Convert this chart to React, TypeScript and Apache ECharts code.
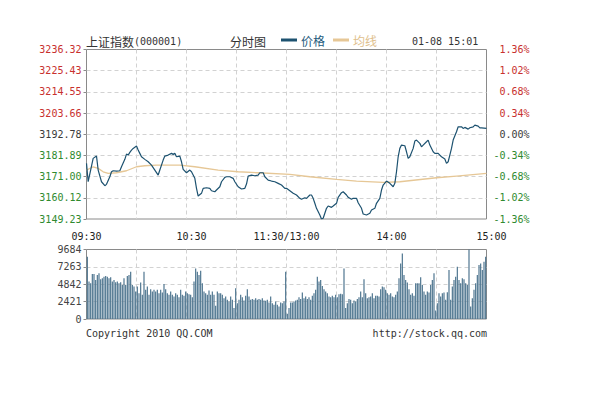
import React, { useEffect, useRef } from 'react';
import * as echarts from 'echarts';

const priceTicks = ['3149.23', '3160.12', '3171.00', '3181.89', '3192.78', '3203.66', '3214.55', '3225.43', '3236.32'];
const pctTicks = ['-1.36%', '-1.02%', '-0.68%', '-0.34%', '0.00%', '0.34%', '0.68%', '1.02%', '1.36%'];
const timeTickMinutes = [0, 60, 120, 180, 240];
const timeTickLabels = ['09:30', '10:30', '11:30/13:00', '14:00', '15:00'];
const priceMin = 3149.23;
const priceMax = 3236.32;
const volMax = 9684;
const volStep = 2421;

const priceMinutes = [
  0, 1, 4, 6, 7, 9, 11, 12, 14, 15, 16, 18, 20, 21, 23, 24, 25, 26, 27, 28,
  30, 31, 32, 33, 35, 37, 39, 41, 43, 44, 46, 47, 49, 51, 52, 53, 54, 56, 57, 58,
  60, 62, 63, 65, 66, 67, 69, 70, 72, 74, 75, 77, 78, 80, 81, 83, 84, 86, 88, 89,
  91, 93, 95, 96, 97, 99, 101, 103, 104, 106, 107, 109, 111, 113, 115, 117, 119, 120, 122, 124,
  126, 128, 129, 131, 132, 134, 135, 136, 137, 138, 140, 141, 142, 143, 144, 145, 147, 148, 150, 151,
  153, 154, 156, 157, 159, 160, 162, 163, 165, 166, 168, 170, 171, 173, 174, 176, 177, 178, 180, 182,
  184, 185, 186, 187, 188, 189, 191, 192, 193, 194, 196, 197, 198, 200, 201, 202, 204, 205, 206, 208,
  209, 211, 212, 213, 215, 216, 217, 218, 219, 220, 222, 223, 225, 226, 227, 229, 230, 232, 233, 235,
  236, 237, 240,
];
const priceValues = [
  3177.82, 3168.37, 3180.38, 3181.56, 3174.38, 3168.37, 3166.32, 3167.04, 3170.94, 3173.5, 3174.02, 3173.86, 3174.02, 3176.07, 3179.87, 3182.59, 3182.08, 3183.46, 3184.64, 3185.51,
  3186.69, 3184.64, 3182.95, 3181.2, 3179.87, 3178.64, 3176.94, 3174.38, 3171.81, 3174.38, 3179.51, 3181.56, 3182.08, 3182.95, 3182.43, 3182.95, 3181.2, 3181.56, 3178.64, 3174.74,
  3172.99, 3174.38, 3173.5, 3170.12, 3164.99, 3161.03, 3162.42, 3164.99, 3165.29, 3164.99, 3163.75, 3163.24, 3164.11, 3165.81, 3168.37, 3170.63, 3170.94, 3170.94, 3170.12, 3168.37,
  3165.81, 3164.63, 3164.99, 3167.19, 3171.3, 3171.81, 3171.45, 3171.81, 3172.99, 3172.99, 3170.94, 3169.24, 3168.73, 3168.37, 3167.55, 3166.68, 3164.99, 3164.99, 3163.75, 3162.42,
  3161.55, 3159.85, 3159.34, 3160.16, 3159.85, 3161.55, 3161.55, 3159.85, 3157.29, 3154.72, 3151.28, 3149.23, 3149.59, 3152.16, 3154.72, 3155.9, 3155.23, 3155.9, 3157.29, 3160.37,
  3162.73, 3163.24, 3161.55, 3160.37, 3159.34, 3159.85, 3159.85, 3157.59, 3154.72, 3151.8, 3151.28, 3152.16, 3153.85, 3154.72, 3157.29, 3159.85, 3164.11, 3166.68, 3168.73, 3167.55,
  3165.81, 3167.55, 3173.5, 3181.2, 3185.51, 3187.21, 3186.85, 3183.77, 3180.38, 3181.2, 3185.51, 3189.26, 3189.77, 3188.08, 3186.33, 3187.21, 3188.9, 3189.77, 3187.21, 3183.77,
  3182.95, 3182.95, 3182.08, 3181.2, 3180.02, 3177.82, 3178.64, 3182.08, 3185.51, 3189.77, 3194.03, 3196.6, 3196.6, 3195.78, 3196.29, 3195.42, 3196.09, 3196.6, 3197.47, 3196.96,
  3196.09, 3196.09, 3195.78,
];

const avgMinutes = [0, 4, 7, 10, 13, 18, 24, 30, 35, 42, 56, 65, 79, 91, 103, 122, 134, 150, 162, 178, 188, 210, 222, 240];
const avgValues = [
  3174.38, 3176.07, 3175.25, 3173.5, 3172.68, 3172.99, 3174.02, 3176.07, 3176.58, 3176.94, 3176.94, 3176.07,
  3174.38, 3173.5, 3172.99, 3172.17, 3170.94, 3169.6, 3168.73, 3168.06, 3168.37, 3170.43, 3171.3, 3172.68,
];

const volumes = [
  8670, 5210, 4980, 6270, 6270, 5440, 6130, 6360, 5530, 5670,
  5900, 5990, 5900, 5670, 5810, 5210, 5440, 5120, 5210, 4980,
  5120, 4750, 5670, 4750, 5990, 6130, 6590, 4750, 4520, 3830,
  4520, 3600, 5070, 3370, 6590, 4060, 4520, 3370, 4150, 3830,
  4060, 3830, 4060, 3600, 4060, 3690, 4890, 4150, 3600, 3370,
  3830, 3370, 3140, 3600, 3370, 3040, 4060, 3370, 3230, 3830,
  3600, 3460, 3370, 3040, 5210, 7050, 6590, 6130, 6730, 4980,
  3830, 3600, 3370, 3970, 3370, 3830, 3370, 1840, 3830, 3600,
  3600, 3370, 2900, 3140, 2670, 2440, 3140, 2670, 1520, 4290,
  2210, 2670, 3370, 3040, 2580, 3230, 4150, 3140, 2670, 2770,
  2670, 2900, 2670, 2770, 2670, 2900, 2580, 2540, 2670, 2310,
  3140, 2210, 1980, 2440, 1980, 1750, 2310, 2210, 2440, 6590,
  740, 1520, 2310,
  2310, 2440, 2580, 2670, 3040, 2770, 3690, 2900, 3140, 2770,
  3040, 2670, 3230, 3600, 4060, 5900, 5210, 5440, 4610, 4150,
  3830, 3600, 3140, 3040, 3230, 3040, 3370, 3040, 3460, 3510,
  3460, 7050,
  1520, 2210, 2770, 2670, 2210, 2580, 2440, 2770, 3040, 3830, 3040,
  5530, 3600, 2900, 3040, 3140, 3600, 2900, 3230, 3230, 3140,
  4150, 4520, 4430, 4060, 3600, 3370, 3600, 3140, 3040, 3370,
  3830, 5670, 7750, 9130, 6130, 5440, 5070, 4150, 3370, 3600,
  3230, 4980, 4980, 4980, 5810, 4750, 3830, 3370, 3830, 3690,
  4750, 5440, 6360, 1200, 2210, 3600, 3140, 3600, 3690, 2670,
  3740, 6820, 2670, 4520, 5440, 5900, 7290, 5440, 4980, 5670,
  5530, 4980, 4750, 9684, 1750, 2900, 4060, 4980, 6130, 7520,
  7750, 6820, 7980, 8670,
];

const MONO = 'DejaVu Sans Mono';
const CJK = 'Noto Sans CJK SC';
const RED = '#c8302e';
const GREEN = '#2f8a2f';
const GRAY = '#3a3a3a';
const PRICE_COLOR = '#1d5270';
const AVG_COLOR = '#e6c796';
const VOL_COLOR = '#4f7690';
const BORDER = '#8a8a8a';
const SPLIT = '#d2d2d2';

export default function App() {
  const ref = useRef<HTMLDivElement>(null);

  useEffect(() => {
    const chart = echarts.init(ref.current!, null, { renderer: 'svg' });
    const dashed = { show: true, showMinLine: false, showMaxLine: false, lineStyle: { color: SPLIT, type: [4, 3] as any, width: 1 } };
    const tickCls = (i: number) => (i > 4 ? 'r' : i < 4 ? 'g' : 'k');
    const monoRich = {
      r: { color: RED, fontFamily: MONO, fontSize: 10 },
      g: { color: GREEN, fontFamily: MONO, fontSize: 10 },
      k: { color: GRAY, fontFamily: MONO, fontSize: 10 },
    };
    const timeShift = [0, 10, 0, 10, 10];

    const option: any = {
      animation: false,
      backgroundColor: '#fff',
      textStyle: { fontFamily: MONO },
      legend: {
        left: 281,
        top: 34,
        padding: 0,
        icon: 'rect',
        itemWidth: 16,
        itemHeight: 3,
        itemGap: 8,
        selectedMode: false,
        textStyle: { fontSize: 12, fontFamily: CJK, padding: [0, 0, 0, -1] },
        data: [
          { name: '价格', textStyle: { color: '#1f5b7d' } },
          { name: '均线', textStyle: { color: '#e0c08c' } },
        ],
      },
      grid: [
        { left: 86.5, right: 106.5, top: 49.5, height: 169.5, show: true, borderColor: BORDER, borderWidth: 1, backgroundColor: 'transparent' },
        { left: 86.5, right: 106.5, top: 249.5, height: 69.5, show: true, borderColor: BORDER, borderWidth: 1, backgroundColor: 'transparent' },
      ],
      xAxis: [
        {
          gridIndex: 0,
          type: 'value',
          min: 0,
          max: 240,
          interval: 30,
          axisLine: { show: false },
          axisTick: { show: false },
          splitLine: dashed,
          axisLabel: {
            margin: 12,
            formatter: (v: number) => {
              const i = timeTickMinutes.indexOf(v);
              if (i < 0) return '';
              return `{t${i}|${timeTickLabels[i]}}`;
            },
            rich: Object.fromEntries(
              timeShift.map((s, i) => [`t${i}`, { fontFamily: MONO, fontSize: 10, color: '#222', padding: [0, 0, 0, s] }])
            ),
          },
        },
        {
          gridIndex: 1,
          type: 'value',
          min: 0,
          max: 240,
          interval: 30,
          axisLine: { show: false },
          axisTick: { show: false },
          axisLabel: { show: false },
          splitLine: dashed,
        },
      ],
      yAxis: [
        {
          gridIndex: 0,
          type: 'value',
          position: 'left',
          min: 0,
          max: 8,
          interval: 1,
          axisLine: { show: false },
          axisTick: { show: true, length: 3, lineStyle: { color: BORDER } },
          splitLine: dashed,
          axisLabel: {
            margin: 5,
            formatter: (v: number) => `{${tickCls(v)}|${priceTicks[v]}}`,
            rich: monoRich,
          },
        },
        {
          gridIndex: 0,
          type: 'value',
          position: 'right',
          min: 0,
          max: 8,
          interval: 1,
          axisLine: { show: false },
          axisTick: { show: false },
          splitLine: { show: false },
          axisLabel: {
            margin: 43,
            align: 'right',
            formatter: (v: number) => `{${tickCls(v)}|${pctTicks[v]}}`,
            rich: monoRich,
          },
        },
        {
          gridIndex: 0,
          type: 'value',
          min: priceMin,
          max: priceMax,
          show: false,
          splitLine: { show: false },
        },
        {
          gridIndex: 1,
          type: 'value',
          position: 'left',
          min: 0,
          max: volMax,
          interval: volStep,
          axisLine: { show: false },
          axisTick: { show: true, length: 3, lineStyle: { color: BORDER } },
          splitLine: dashed,
          axisLabel: { margin: 5, fontFamily: MONO, fontSize: 10, color: '#444', formatter: (v: number) => String(v) },
        },
      ],
      series: [
        {
          name: '均线',
          type: 'line',
          xAxisIndex: 0,
          yAxisIndex: 2,
          symbol: 'none',
          color: AVG_COLOR,
          lineStyle: { color: AVG_COLOR, width: 1.3 },
          data: avgMinutes.map((m, i) => [m, avgValues[i]]),
          z: 3,
        },
        {
          name: '价格',
          type: 'line',
          xAxisIndex: 0,
          yAxisIndex: 2,
          symbol: 'none',
          color: PRICE_COLOR,
          lineStyle: { color: PRICE_COLOR, width: 1.2 },
          data: priceMinutes.map((m, i) => [m, priceValues[i]]),
          z: 4,
        },
        {
          name: 'vol',
          type: 'bar',
          xAxisIndex: 1,
          yAxisIndex: 3,
          barWidth: 1.2,
          itemStyle: { color: VOL_COLOR },
          data: volumes.map((v, i) => [i + 0.5, v]),
        },
      ],
      graphic: [
        {
          type: 'text',
          x: 86,
          y: 41,
          style: {
            text: '{a|上证指数}{b|(000001)}',
            verticalAlign: 'middle',
            rich: {
              a: { fontFamily: CJK, fontSize: 12, fill: '#333' },
              b: { fontFamily: MONO, fontSize: 10, fill: '#333' },
            },
          },
        },
        {
          type: 'text',
          x: 230,
          y: 41,
          style: { text: '分时图', fontFamily: CJK, fontSize: 12, fill: '#333', verticalAlign: 'middle' },
        },
        {
          type: 'text',
          x: 412,
          y: 41,
          style: { text: '01-08 15:01', fontFamily: MONO, fontSize: 10, fill: '#333', verticalAlign: 'middle' },
        },
        {
          type: 'text',
          x: 86,
          y: 333,
          style: { text: 'Copyright 2010 QQ.COM', fontFamily: MONO, fontSize: 10, fill: '#333', verticalAlign: 'middle' },
        },
        {
          type: 'text',
          x: 487,
          y: 333,
          style: { text: 'http://stock.qq.com', fontFamily: MONO, fontSize: 10, fill: '#333', verticalAlign: 'middle', align: 'right' },
        },
      ],
    };
    chart.setOption(option);
    return () => chart.dispose();
  }, []);

  return (
    <div
      ref={ref}
      style={{ position: 'fixed', left: 0, top: 0, width: 593, height: 399, background: '#fff' }}
    />
  );
}
